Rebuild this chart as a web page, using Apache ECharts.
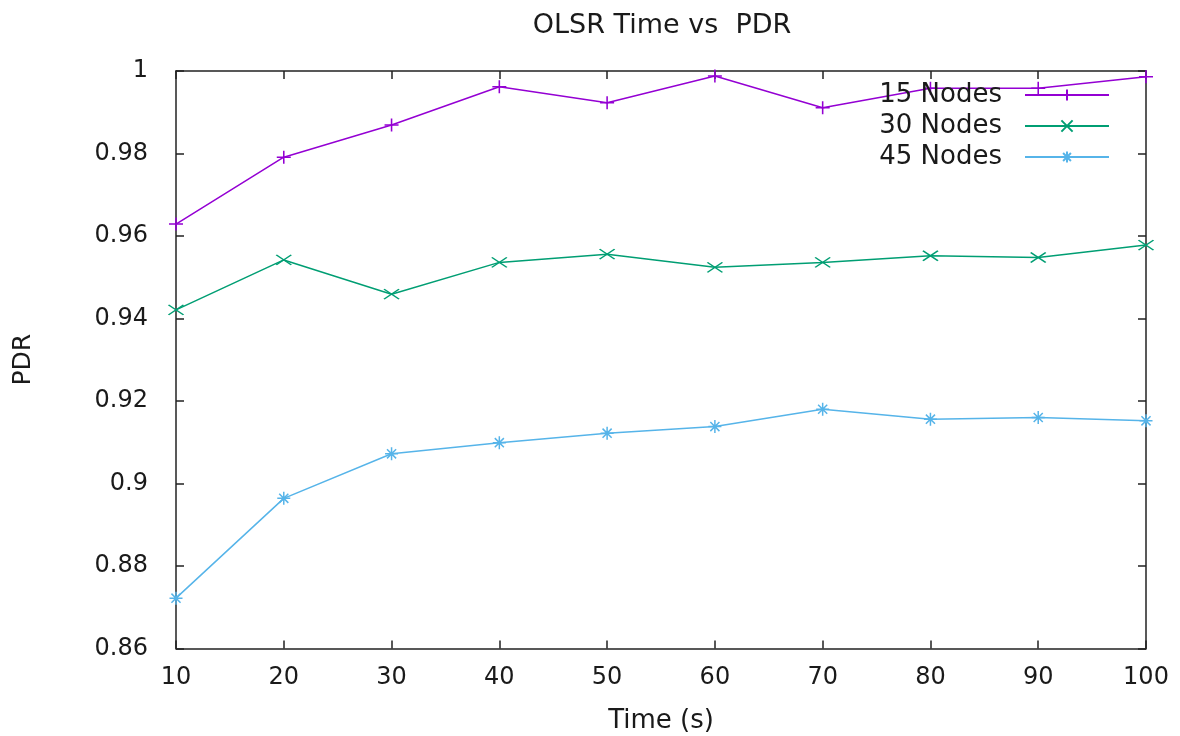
<!DOCTYPE html>
<html>
<head>
<meta charset="utf-8">
<script src="https://cdn.jsdelivr.net/npm/echarts@6/dist/echarts.min.js"></script>
<style>html,body{margin:0;padding:0;background:#fff}#c{width:1180px;height:736px}</style>
</head>
<body>
<div id="c"></div>
<script>
const times = [10, 20, 30, 40, 50, 60, 70, 80, 90, 100];
const nodes15 = [0.9629, 0.9791, 0.9869, 0.9962, 0.9923, 0.9988, 0.9911, 0.9958, 0.9958, 0.9986];
const nodes30 = [0.9421, 0.9542, 0.9459, 0.9536, 0.9556, 0.9524, 0.9536, 0.9552, 0.9548, 0.9578];
const nodes45 = [0.8722, 0.8964, 0.9072, 0.9099, 0.9122, 0.9138, 0.9180, 0.9156, 0.9160, 0.9152];
const seriesNames = ['15 Nodes', '30 Nodes', '45 Nodes'];
const seriesColors = ['#9400d3', '#009e73', '#56b4e9'];

const FONT = 'DejaVu Sans';
const TXT = '#1a1a1a';
const pair = arr => times.map((t, i) => [t, arr[i]]);

const SYM_PLUS = 'path://M5,0L5,10M0,5L10,5';
const SYM_X = 'path://M0,0L10,10M10,0L0,10';
const SYM_STAR = 'path://M5,0L5,10M0,5L10,5M1.5,1.5L8.5,8.5M8.5,1.5L1.5,8.5';
const symbols = [SYM_PLUS, SYM_X, SYM_STAR];
const symbolSizes = [[14, 13], [15, 10], [13, 13]];

function mkSeries(i, data) {
  return {
    name: seriesNames[i],
    type: 'line',
    data: pair(data),
    symbol: symbols[i],
    symbolSize: symbolSizes[i],
    showAllSymbol: true,
    lineStyle: { color: seriesColors[i], width: 1.5 },
    itemStyle: { color: seriesColors[i], borderColor: seriesColors[i], borderWidth: 1.5 },
    emphasis: { disabled: true },
    animation: false
  };
}

const axisLine = { show: true, lineStyle: { color: '#222', width: 1.5 } };
const axisTick = { show: true, inside: true, length: 8, lineStyle: { color: '#222', width: 1.5 } };

const option = {
  backgroundColor: '#fff',
  animation: false,
  title: {
    text: 'OLSR Time vs  PDR',
    left: 657, top: 7, textAlign: 'center',
    textStyle: { fontFamily: FONT, fontSize: 27, fontWeight: 'normal', color: TXT }
  },
  legend: {
    orient: 'vertical',
    right: 65, top: 77,
    align: 'right',
    itemWidth: 84, itemHeight: 14, itemGap: 5,
    textStyle: { fontFamily: FONT, fontSize: 26, color: TXT, lineHeight: 26, padding: [0, 18, 0, 0] },
    data: seriesNames
  },
  grid: { left: 176, right: 34, top: 71, bottom: 87.5, containLabel: false, outerBoundsMode: 'none' },
  xAxis: [
    {
      type: 'value', min: 10, max: 100, interval: 10, position: 'bottom',
      name: 'Time (s)', nameLocation: 'middle', nameGap: 60,
      nameTextStyle: { fontFamily: FONT, fontSize: 26, color: TXT },
      axisLine, axisTick, splitLine: { show: false },
      axisLabel: { fontFamily: FONT, fontSize: 24, color: TXT, margin: 17 }
    },
    {
      type: 'value', min: 10, max: 100, interval: 10, position: 'top',
      axisLine, axisTick, splitLine: { show: false }, axisLabel: { show: false }
    }
  ],
  yAxis: [
    {
      type: 'value', min: 0.86, max: 1, interval: 0.02, position: 'left',
      name: 'PDR', nameLocation: 'middle', nameGap: 140, nameRotate: 90,
      nameTextStyle: { fontFamily: FONT, fontSize: 25, color: TXT },
      axisLine, axisTick, splitLine: { show: false },
      axisLabel: { fontFamily: FONT, fontSize: 24, color: TXT, margin: 28,
        formatter: v => String(+v.toFixed(2)) }
    },
    {
      type: 'value', min: 0.86, max: 1, interval: 0.02, position: 'right',
      axisLine, axisTick, splitLine: { show: false }, axisLabel: { show: false }
    }
  ],
  series: [mkSeries(0, nodes15), mkSeries(1, nodes30), mkSeries(2, nodes45)]
};

const chart = echarts.init(document.getElementById('c'), null, { renderer: 'canvas' });
chart.setOption(option);
</script>
</body>
</html>
